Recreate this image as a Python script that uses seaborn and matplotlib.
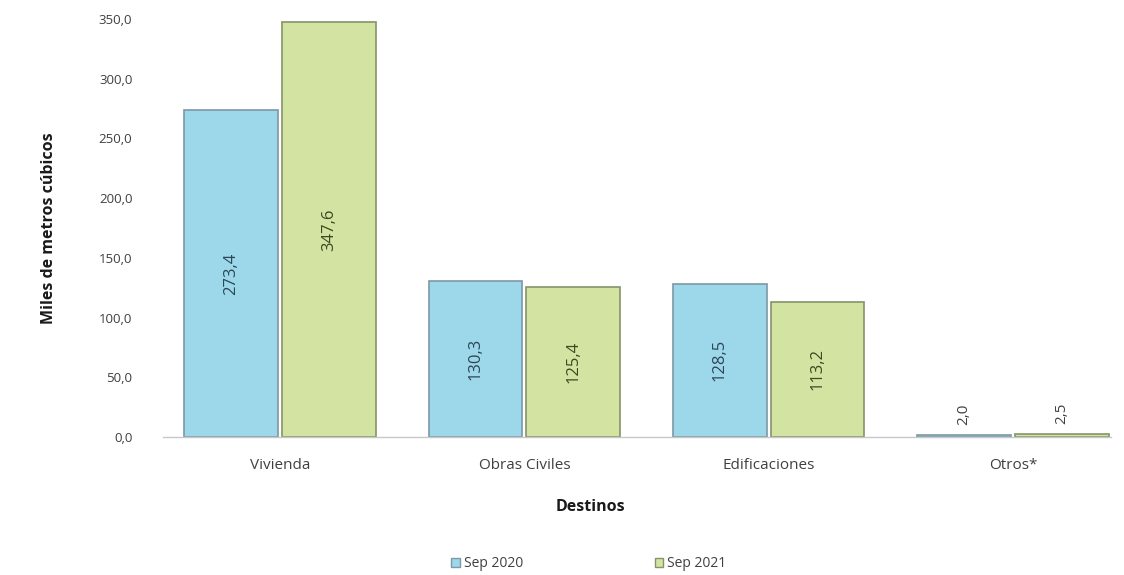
import matplotlib
matplotlib.use("Agg")
import matplotlib.pyplot as plt
import numpy as np
import pandas as pd
import seaborn as sns

destinos = ["Vivienda", "Obras Civiles", "Edificaciones", "Otros*"]
periodos = ["Sep 2020", "Sep 2021"]
sep_2020 = [273.4, 130.3, 128.5, 2.0]
sep_2021 = [347.6, 125.4, 113.2, 2.5]
y_ticks = [0, 50, 100, 150, 200, 250, 300, 350]

df = pd.DataFrame({
    "Destinos": destinos * 2,
    "Periodo": [periodos[0]] * 4 + [periodos[1]] * 4,
    "Valor": sep_2020 + sep_2021,
})

sns.set_style("white")
plt.rcParams["font.family"] = ["Open Sans", "DejaVu Sans"]

fill_colors = {"Sep 2020": "#9dd8ea", "Sep 2021": "#d3e4a2"}
edge_colors = ["#7d98a6", "#84946a"]
text_colors = ["#2c4656", "#3c4a22"]

fig = plt.figure(figsize=(11.24, 5.75), dpi=100)
ax = fig.add_axes([0.145, 0.24, 0.843, 0.727])

sns.barplot(data=df, x="Destinos", y="Valor", hue="Periodo", order=destinos,
            hue_order=periodos, palette=fill_colors, width=0.8, gap=0.04,
            saturation=1, legend=False, ax=ax)

for container, ec, tc in zip(ax.containers, edge_colors, text_colors):
    for bar in container:
        bar.set_edgecolor(ec)
        bar.set_linewidth(1.2)
        h = bar.get_height()
        x = bar.get_x() + bar.get_width() / 2
        label = f"{h:.1f}".replace(".", ",")
        if h > 20:
            ax.text(x, h / 2, label, rotation=90, ha="center", va="center",
                    fontsize=12, color=tc)
        else:
            ax.text(x, h + 8, label, rotation=90, ha="center", va="bottom",
                    fontsize=11, color="#404040")

ax.set_ylim(0, 350)
ax.set_xlim(-0.48, 3.4)
ax.set_yticks(y_ticks)
ax.set_yticklabels([f"{v:.1f}".replace(".", ",") for v in y_ticks])
ax.tick_params(axis="y", length=0, labelsize=9.5, colors="#404040", pad=22)
ax.tick_params(axis="x", length=0, labelsize=11, colors="#404040", pad=15)

for side in ["left", "right", "top"]:
    ax.spines[side].set_visible(False)
ax.spines["bottom"].set_color("#c8c8c8")
ax.spines["bottom"].set_linewidth(1)

ax.set_xlabel("Destinos", fontsize=11.5, fontweight="bold", color="#1a1a1a")
ax.xaxis.set_label_coords(0.451, -0.148)
ax.set_ylabel("Miles de metros cúbicos", fontsize=11.5, fontweight="bold",
              color="#1a1a1a", labelpad=30)

handles = [plt.Rectangle((0, 0), 1, 1, facecolor=fill_colors[p], edgecolor=ec)
           for p, ec in zip(periodos, edge_colors)]
fig.legend(handles, periodos, loc="center", bbox_to_anchor=(0.524, 0.02),
           ncol=2, frameon=False, fontsize=10, handlelength=0.6, handleheight=0.6,
           handletextpad=0.3, columnspacing=9.5, labelcolor="#404040")

fig.savefig("out.png", dpi=100)
